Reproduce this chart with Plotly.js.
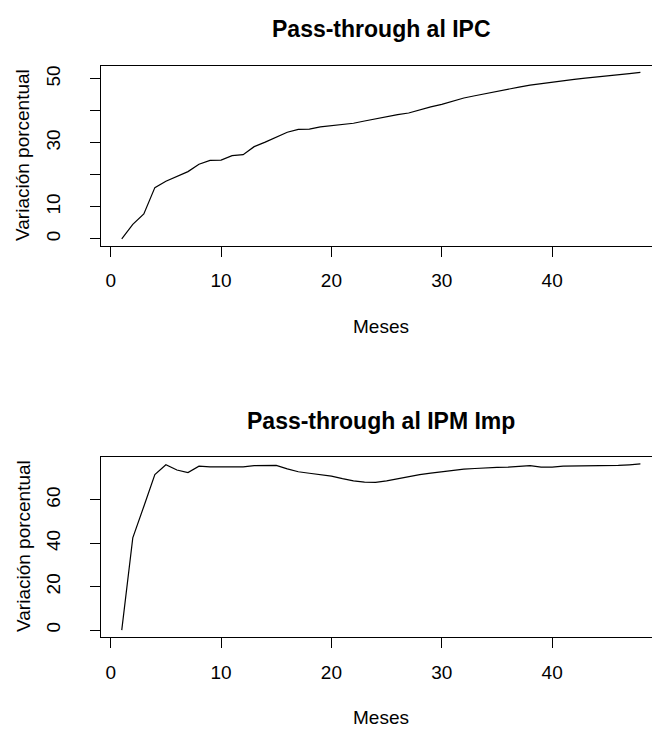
<!DOCTYPE html>
<html>
<head>
<meta charset="utf-8">
<script src="https://cdn.plot.ly/plotly-3.0.1.min.js"></script>
<style>
  html, body { margin: 0; padding: 0; background: #fff; }
  #chart { width: 652px; height: 729px; }
</style>
</head>
<body>
<div id="chart"></div>
<script>
// Months (Meses)
const meses = [1,2,3,4,5,6,7,8,9,10,11,12,13,14,15,16,17,18,19,20,21,22,23,24,
               25,26,27,28,29,30,31,32,33,34,35,36,37,38,39,40,41,42,43,44,45,46,47,48];

// Pass-through al IPC (variación porcentual)
const ipc = [0,4.5,7.8,16,18,19.5,21,23.3,24.5,24.6,26,26.3,28.8,30.2,31.8,33.3,
             34.2,34.3,35,35.4,35.8,36.1,36.8,37.5,38.3,38.8,39.3,40.3,41.2,42,43.1,44,
             44.7,45.4,46.2,46.8,47.4,48,48.5,49,49.4,49.8,50.2,50.5,50.8,51.2,51.6,52];

// Pass-through al IPM Imp (variación porcentual)
const ipm = [0,42.5,57,71.7,76.2,73.8,72.6,75.6,75.2,75.3,75.3,75.2,75.8,75.9,75.9,74.3,
             73,72.3,71.6,71,69.8,68.8,68.2,68.1,68.8,69.8,70.7,71.7,72.4,73.1,73.6,74.2,
             74.5,74.9,75,75.1,75.4,75.8,75.1,75.1,75.6,75.6,75.7,75.7,75.8,75.9,76.2,76.6];

// Tick values / labels
const xTicks = [0,10,20,30,40];
const xTickText = ["0","10","20","30","40"];
const yTicksIPC = [0,10,20,30,40,50];
const yTickTextIPC = ["0","10","","30","","50"];
const yTicksIPM = [0,20,40,60];
const yTickTextIPM = ["0","20","40","60"];

const titles = ["Pass-through al IPC", "Pass-through al IPM Imp"];
const xTitle = "Meses";
const yTitle = "Variación porcentual";

const FONT = "Liberation Sans, Arial, sans-serif";
const W = 652, H = 729;
const px = v => v / W;
const py = v => 1 - v / H;

const lineStyle = { color: "#000", width: 1.2 };

const data = [
  { x: meses, y: ipc, type: "scatter", mode: "lines", line: lineStyle, xaxis: "x", yaxis: "y", hoverinfo: "x+y" },
  { x: meses, y: ipm, type: "scatter", mode: "lines", line: lineStyle, xaxis: "x2", yaxis: "y2", hoverinfo: "x+y" }
];

function xAxis(anchor) {
  return {
    domain: [px(101), 1],
    range: [-0.88, 49.05],
    anchor: anchor,
    showgrid: false, zeroline: false,
    showline: true, mirror: true, linecolor: "#000", linewidth: 1,
    ticks: "outside", ticklen: 10, tickwidth: 1, tickcolor: "#000",
    tickvals: xTicks, ticktext: xTickText,
    tickfont: { family: FONT, size: 19, color: "#000" },
    ticklabelstandoff: 8,
    fixedrange: true
  };
}
function yAxis(anchor, dom, rng, tv, tt) {
  return {
    domain: dom,
    range: rng,
    anchor: anchor,
    showgrid: false, zeroline: false,
    showline: true, mirror: false, linecolor: "#000", linewidth: 1,
    ticks: "outside", ticklen: 10, tickwidth: 1, tickcolor: "#000",
    tickvals: tv, ticktext: tt, tickangle: -90,
    tickfont: { family: FONT, size: 19, color: "#000" },
    ticklabelstandoff: 22,
    fixedrange: true
  };
}

const ann = (text, x, y, opts) => Object.assign({
  text: text, xref: "paper", yref: "paper", x: x, y: y,
  xanchor: "center", yanchor: "middle", showarrow: false,
  font: { family: FONT, size: 19, color: "#000" }
}, opts || {});

const layout = {
  width: W, height: H,
  margin: { l: 0, r: 0, t: 0, b: 0, pad: 0 },
  paper_bgcolor: "#fff", plot_bgcolor: "#fff",
  showlegend: false,
  xaxis: xAxis("y"),
  yaxis: yAxis("x", [py(245.5), py(65.7)], [-2.08, 54.08], yTicksIPC, yTickTextIPC),
  xaxis2: xAxis("y2"),
  yaxis2: yAxis("x2", [py(636.7), py(457.3)], [-3.06, 79.66], yTicksIPM, yTickTextIPM),
  annotations: [
    ann("<b>" + titles[0] + "</b>", px(381), py(29), { font: { family: FONT, size: 23, color: "#000" } }),
    ann("<b>" + titles[1] + "</b>", px(381), py(420.5), { font: { family: FONT, size: 23, color: "#000" } }),
    ann(xTitle, px(381), py(326.5)),
    ann(xTitle, px(381), py(717.5)),
    ann(yTitle, px(23), py(155), { textangle: -90 }),
    ann(yTitle, px(23), py(546), { textangle: -90 })
  ]
};

Plotly.newPlot("chart", data, layout, { displayModeBar: false, staticPlot: true });
</script>
</body>
</html>
